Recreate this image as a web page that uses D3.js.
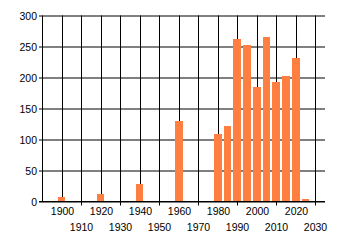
<!DOCTYPE html>
<html><head><meta charset="utf-8">
<script src="https://cdn.jsdelivr.net/npm/d3@7"></script>
<style>
html,body{margin:0;padding:0;background:#fff;}
svg{display:block;font-family:"Liberation Sans",Arial,sans-serif;}
</style></head>
<body>
<svg id="chart" width="340" height="245"></svg>
<script>
const years = [1900,1920,1940,1960,1980,1985,1990,1995,2000,2005,2010,2015,2020,2025];
const values = [6,11,27,129,108,121,261,252,184,265,192,202,231,3];
const xTicks = [1900,1910,1920,1930,1940,1950,1960,1970,1980,1990,2000,2010,2020,2030];
const yTicks = [0,50,100,150,200,250,300];

(function () {
const svg = d3.select("#chart");
const pLeft = 42, pRight = 325, pTop = 15, pBottom = 201;
const x = d3.scaleLinear().domain([1890, 2035]).range([pLeft, pRight]);
const y = d3.scaleLinear().domain([0, 300]).range([pBottom, pTop]);
const fs = "10.5px";

// horizontal grid + y labels
const yAxis = d3.axisLeft(y).tickValues(yTicks).tickSize(pRight - pLeft + 3).tickSizeOuter(0).tickPadding(2);
const gy = svg.append("g").attr("transform", `translate(${pRight},0.5)`).call(yAxis);
gy.select(".domain").remove();
gy.selectAll("line").attr("stroke", "#000");
gy.selectAll("text").attr("font-size", fs).attr("fill", "#000").attr("x", -(pRight - pLeft + 5)).attr("dy", "0.34em");

// vertical grid
svg.append("g").selectAll("line").data(xTicks).join("line")
  .attr("x1", d => Math.round(x(d)) + 0.5).attr("x2", d => Math.round(x(d)) + 0.5)
  .attr("y1", pTop + 0.5)
  .attr("y2", (d, i) => i % 2 === 1 ? pBottom + 4.5 : pBottom + 0.5)
  .attr("stroke", "#000");

// left axis line
svg.append("line").attr("x1", pLeft + 0.5).attr("x2", pLeft + 0.5)
  .attr("y1", pTop + 0.5).attr("y2", pBottom + 0.5).attr("stroke", "#000");

// bars
svg.append("g").selectAll("rect").data(years).join("rect")
  .attr("x", d => Math.round(x(d - 2)))
  .attr("width", d => Math.round(x(d + 2)) - Math.round(x(d - 2)))
  .attr("y", (d, i) => Math.round(y(values[i])))
  .attr("height", (d, i) => pBottom + 1 - Math.round(y(values[i])))
  .attr("fill", "#FF7F40");

// redraw baseline over bars
svg.append("line").attr("x1", pLeft - 3).attr("x2", pRight).attr("y1", pBottom + 0.5).attr("y2", pBottom + 0.5).attr("stroke", "#000");

// x labels (staggered)
svg.append("g").selectAll("text").data(xTicks).join("text")
  .attr("x", d => Math.round(x(d)) + 0.5)
  .attr("y", (d, i) => i % 2 === 0 ? 215 : 231)
  .attr("text-anchor", "middle")
  .attr("font-size", fs).attr("fill", "#000")
  .text(d => d);
})();
</script>
</body></html>
